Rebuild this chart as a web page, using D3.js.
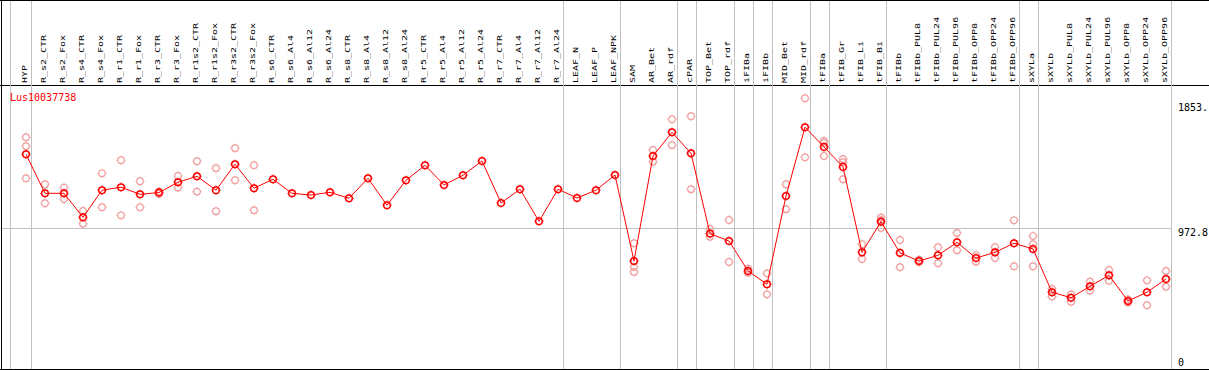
<!DOCTYPE html>
<html><head><meta charset="utf-8">
<script src="https://cdn.jsdelivr.net/npm/d3@7"></script>
<style>
body{margin:0;background:#fff}
svg{display:block}
text{font-family:"DejaVu Sans Mono",monospace;font-size:10px}
</style>
</head><body>
<svg id="c" width="1209" height="370"></svg>
<script>
const title = "Lus10037738";
const categories = ["HYP","R_s2_CTR","R_s2_Fox","R_s4_CTR","R_s4_Fox","R_r1_CTR","R_r1_Fox","R_r3_CTR","R_r3_Fox","R_r1s2_CTR","R_r1s2_Fox","R_r3s2_CTR","R_r3s2_Fox","R_s6_CTR","R_s6_Al4","R_s6_Al12","R_s6_Al24","R_s8_CTR","R_s8_Al4","R_s8_Al12","R_s8_Al24","R_r5_CTR","R_r5_Al4","R_r5_Al12","R_r5_Al24","R_r7_CTR","R_r7_Al4","R_r7_Al12","R_r7_Al24","LEAF_N","LEAF_P","LEAF_NPK","SAM","AR_Bet","AR_rdf","cPAR","TOP_Bet","TOP_rdf","iFIBa","iFIBb","MID_Bet","MID_rdf","tFIBa","tFIB_Gr","tFIB_Li","tFIB_Bi","tFIBb","tFIBb_PUL8","tFIBb_PUL24","tFIBb_PUL96","tFIBb_OPP8","tFIBb_OPP24","tFIBb_OPP96","sXYLa","sXYLb","sXYLb_PUL8","sXYLb_PUL24","sXYLb_PUL96","sXYLb_OPP8","sXYLb_OPP24","sXYLb_OPP96"];
const groupSizes = [1,28,3,3,1,2,1,1,2,1,3,7,1,7];
const means = [1492,1217,1217,1048,1239,1260,1210,1222,1295,1337,
 1239,1422,1253,1316,1217,1205,1224,1182,1323,1133,
 1309,1415,1276,1344,1445,1149,1246,1020,1246,1184,
 1239,1346,740,1480,1647,1499,933,881,670,576,
 1198,1683,1544,1403,801,1017,797,740,780,872,
 761,801,865,825,520,481,562,639,458,520,613];
const replicates = [
 [1612,1549,1323],[1281,1147],[1257,1177],[1093,1003],[1358,1119],
 [1450,1062],[1302,1119],[1230,1212],[1339,1257],[1443,1229],
 [1394,1091],[1535,1309],[1415,1098],
 [],[],[],[],[],[],[],[],[],[],[],[],[],[],[],[],[],[],[],
 [865,698,663],[1523,1440],[1739,1556],[1760,1246],[966,911],[1029,733],
 [686,658],[653,505],[1281,1105],[1887,1471],[1586,1572,1480],[1459,1436,1316],
 [858,754],[1047,1029,973],[888,696],[749,733],[837,724],[938,816],
 [782,735],[837,761],[1027,703],[916,858,703],[543,489],[505,453],
 [594,531],[677,601],[469,448],[604,428],[670,559]];
const yTicks = [0, 972.8, 1853.5];
const yTickLabels = ["0","972.8","1853."];

const svg = d3.select("#c");
const W = 1209, H = 370;
const x = d3.scalePoint().domain(categories).range([26, 1166]);
const y = d3.scaleLinear().domain([0, 1853.5]).range([366, 103]);
const step = x.step();

// borders
svg.append("line").attr("x1",0).attr("x2",W).attr("y1",0.5).attr("y2",0.5).attr("stroke","#000");
svg.append("line").attr("x1",1.5).attr("x2",1.5).attr("y1",0).attr("y2",H).attr("stroke","#000");
svg.append("line").attr("x1",0).attr("x2",W).attr("y1",369.5).attr("y2",369.5).attr("stroke","#000");
svg.append("line").attr("x1",0).attr("x2",W).attr("y1",85.5).attr("y2",85.5).attr("stroke","#000");

// group separators
const sepX = [10.5];
let acc = 0;
groupSizes.forEach(s => { acc += s; sepX.push(Math.round(x(categories[acc-1]) + step/4) + 0.5); });
svg.append("g").selectAll("line").data(sepX).join("line")
  .attr("x1",d=>d).attr("x2",d=>d).attr("y1",1).attr("y2",369)
  .attr("stroke","#c0c0c0");

// grid line at mean level
svg.append("line").attr("x1",2).attr("x2",sepX[sepX.length-1])
  .attr("y1",Math.round(y(972.8))+0.5).attr("y2",Math.round(y(972.8))+0.5).attr("stroke","#c0c0c0");

// header labels
svg.append("g").selectAll("text").data(categories).join("text")
  .attr("transform",d=>`translate(${x(d)+0.5},83) rotate(-90) scale(1,0.75)`)
  .attr("fill","#000").text(d=>d);

// title
svg.append("text").attr("x",10).attr("y",101).attr("fill","#ff0000").text(title);

// right axis
const ax = svg.append("g").attr("transform",`translate(${sepX[sepX.length-1]-0.5},0)`)
  .call(d3.axisRight(y).tickValues(yTicks).tickFormat((d,i)=>yTickLabels[i]).tickSize(0).tickPadding(7));
ax.select(".domain").remove();
ax.selectAll("text").attr("fill","#000").attr("font-family","DejaVu Sans Mono").attr("font-size","10px")
  .attr("dy",(d)=> d===0 ? "-0.05em" : "0.74em");

function marker(g, color, sw){
  const r = 3.3;
  g.append("circle").attr("r",r).attr("fill","none").attr("stroke",color).attr("stroke-width",sw);
  g.append("path").attr("d",`M0,${-r-1.3}V${-r}M0,${r}V${r+1.3}M${-r-1.3},0H${-r}M${r},0H${r+1.3}`)
    .attr("stroke",color).attr("stroke-width",1);
}

// replicates
const repData = [];
replicates.forEach((arr,i)=>arr.forEach(v=>repData.push({c:categories[i],v})));
svg.append("g").selectAll("g").data(repData).join("g")
  .attr("transform",d=>`translate(${x(d.c)},${y(d.v)})`)
  .each(function(){ marker(d3.select(this), "#f0a0a0", 1.2); });

// mean line
const line = d3.line().x((d,i)=>x(categories[i])).y(d=>y(d));
svg.append("path").datum(means).attr("d",line).attr("fill","none").attr("stroke","#ff0000").attr("stroke-width",1);

// mean markers
svg.append("g").selectAll("g").data(means).join("g")
  .attr("transform",(d,i)=>`translate(${x(categories[i])},${y(d)})`)
  .each(function(){ marker(d3.select(this), "#ff0000", 1.5); });
</script>
</body></html>
